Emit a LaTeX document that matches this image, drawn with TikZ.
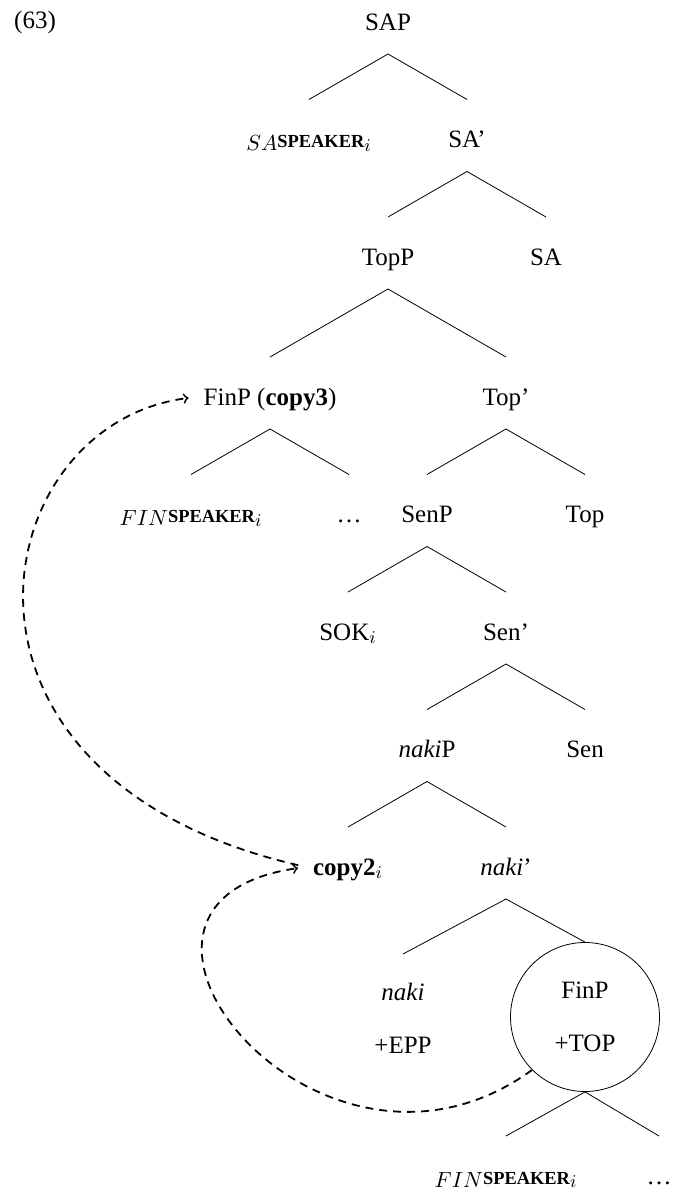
\documentclass[tikz,border=0pt]{standalone}
\usepackage{fontspec}
\setmainfont{Liberation Serif}
\usetikzlibrary{positioning}

% speaker label with its small index in front
\newcommand{\spkr}[1]{\raisebox{-1.5pt}{\fontsize{11}{13}\selectfont$#1$}{\fontsize{9.2}{11}\selectfont\bfseries SPEAKER}$_i$}

\tikzset{
  lab/.style={text height=8.8pt, text depth=.6pt},
  twoline/.style={align=center, font=\fontsize{12.5}{26.5}\selectfont},
  mv/.style={->, line width=.9pt, dash pattern=on 4pt off 3pt}
}

\begin{document}
\begin{tikzpicture}[every node/.style={font=\fontsize{12.5}{15}\selectfont},
                    node distance=58.75pt and 39.5pt, on grid]
\useasboundingbox (0,0) rectangle (336.5pt,-596pt);

\node (ex) at (17.5pt,-11pt) {(63)};

\node[lab] (sap) at (194pt,-11pt) {SAP};
\node[lab] (saspk) [below left=of sap] {\spkr{SA}};
\node[lab] (sabar) [below right=of sap] {SA'};
\node[lab] (topp) [below left=of sabar] {TopP};
\node[lab] (sa) [below right=of sabar] {SA};
\node[lab] (finp) [below left=70pt and 59pt of topp] {FinP (\textbf{copy3})};
\node[lab] (topbar) [below right=70pt and 59pt of topp] {Top'};
\node[lab] (finspk) [below left=of finp] {\spkr{FIN}};
\node[lab] (dots1) [below right=of finp] {\dots};
\node[lab] (senp) [below left=of topbar] {SenP};
\node[lab] (top) [below right=of topbar] {Top};
\node[lab] (sok) [below left=of senp] {SOK$_i$};
\node[lab] (senbar) [below right=of senp] {Sen'};
\node[lab] (nakip) [below left=of senbar] {\textit{naki}P};
\node[lab] (sen) [below right=of senbar] {Sen};
\node[lab] (copy2) [below left=of nakip] {\textbf{copy2}$_i$};
\node[lab] (nakibar) [below right=of nakip] {\textit{naki}'};
\node[twoline] (naki) [below left=75.5pt and 51.5pt of nakibar] {\textit{naki}\\+EPP};
\node[twoline, circle, draw, minimum size=74.5pt, inner sep=0pt] (fincirc)
  [below right=75pt and 39.5pt of nakibar] {FinP\\+TOP};
\node[lab] (finspk2) [below left=79.5pt and 39.5pt of fincirc] {\spkr{FIN}};
\node[lab] (dots2) [below right=79.5pt and 37pt of fincirc] {\dots};

% branches
\foreach \p/\c in {sap/saspk, sap/sabar, sabar/topp, sabar/sa, topp/finp, topp/topbar,
                   finp/finspk, finp/dots1, topbar/senp, topbar/top, senp/sok, senp/senbar,
                   senbar/nakip, senbar/sen, nakip/copy2, nakip/nakibar}
  \draw ([yshift=-16pt]\p.center) -- ([yshift=20pt]\c.center);
\draw ([yshift=-16pt]nakibar.center) -- ([yshift=32pt]naki.center);
\draw ([yshift=-16pt]nakibar.center) -- (fincirc.north);
\draw (fincirc.south) -- ([yshift=20pt]finspk2.center);
\draw (fincirc.south) -- ([yshift=20pt]dots2.center);

% movement
\draw[mv, shorten <=4pt, shorten >=4pt] (copy2.west) .. controls +(167:200pt) and +(187:107pt) .. (finp.west);
\draw[mv, shorten >=4pt] (fincirc.225) .. controls +(216:132pt) and +(188:125pt) .. (copy2.west);
\end{tikzpicture}
\end{document}
